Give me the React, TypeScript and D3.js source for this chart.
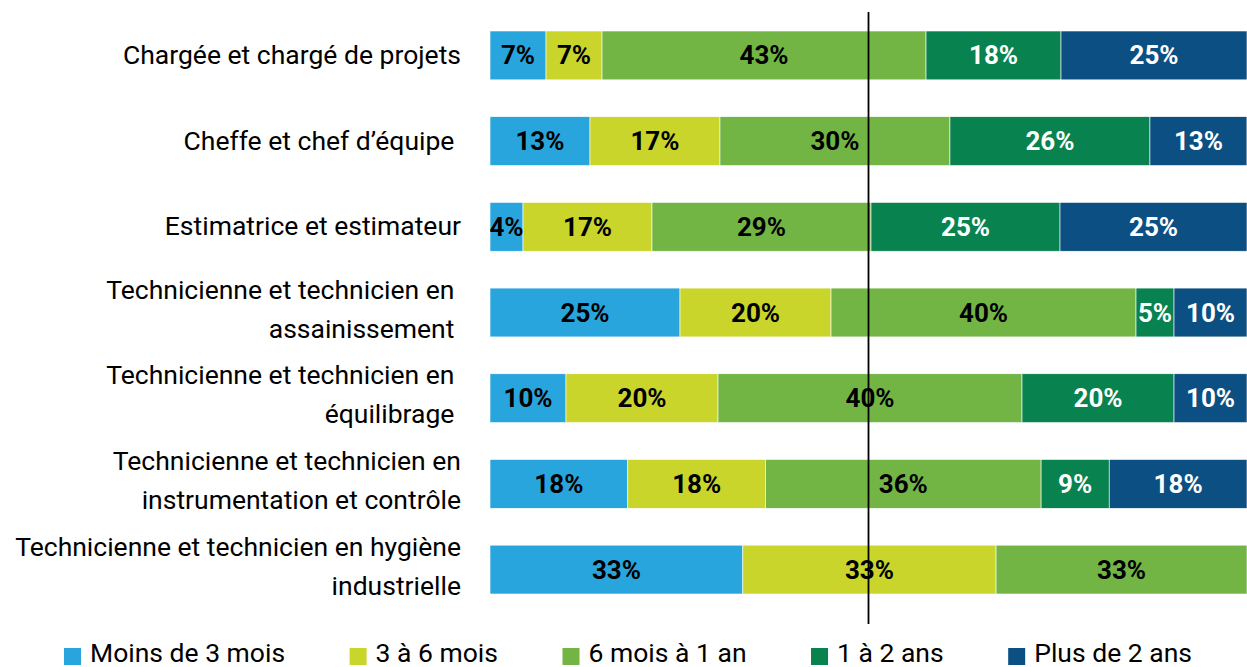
import { useEffect, useRef } from "react";
import * as d3 from "d3";

// categories (label lines; trailing space kept as in the source)
const categories = [
  ["Chargée et chargé de projets"],
  ["Cheffe et chef d’équipe "],
  ["Estimatrice et estimateur"],
  ["Technicienne et technicien en ", "assainissement "],
  ["Technicienne et technicien en ", "équilibrage "],
  ["Technicienne et technicien en", "instrumentation et contrôle"],
  ["Technicienne et technicien en hygiène", "industrielle"],
];

const seriesNames = [
  "Moins de 3 mois",
  "3 à 6 mois",
  "6 mois à 1 an",
  "1 à 2 ans",
  "Plus de 2 ans",
];

// shares in %, per category
const moins3mois = [7.4, 13.21, 4.36, 25.1, 10.04, 18.2, 33.4];
const de3a6mois = [7.4, 17.17, 17.04, 19.95, 20.08, 18.2, 33.45];
const de6moisA1an = [42.8, 30.38, 28.93, 40.29, 40.16, 36.4, 33.15];
const de1a2ans = [17.83, 26.42, 24.97, 5.02, 20.08, 9.0, 0];
const plus2ans = [24.57, 12.81, 24.7, 9.64, 9.64, 18.2, 0];

const colors = ["#29a5dd", "#c9d52a", "#72b545", "#08834f", "#0c4f82"];
const labelColors = ["#000", "#000", "#000", "#fff", "#fff"];

const App = () => {
  const svgRef = useRef<SVGSVGElement>(null);

  useEffect(() => {
    const W = 1247;
    const H = 667;
    const font = "Roboto, sans-serif";
    const fs = 26.5;

    const svg = d3.select(svgRef.current).attr("width", W).attr("height", H);
    svg.selectAll("*").remove();

    const keys = seriesNames;
    const all = [moins3mois, de3a6mois, de6moisA1an, de1a2ans, plus2ans];
    const rows = categories.map((c, i) => {
      const r: any = { id: String(i) };
      keys.forEach((k, j) => (r[k] = all[j][i]));
      return r;
    });

    const x = d3.scaleLinear().domain([0, 100]).range([490, 1247]);
    const y = d3
      .scaleBand()
      .domain(rows.map((r) => r.id))
      .range([31, 594])
      .paddingInner(0.43)
      .paddingOuter(0);

    const stacked = d3.stack().keys(keys)(rows);

    const layers = svg
      .selectAll(".layer")
      .data(stacked)
      .enter()
      .append("g")
      .attr("class", "layer")
      .attr("fill", (d, i) => colors[i]);

    layers
      .selectAll("rect")
      .data((d) => d.filter((s) => s[1] - s[0] > 0))
      .enter()
      .append("rect")
      .attr("x", (d) => x(d[0]))
      .attr("y", (d) => y(d.data.id as string)!)
      .attr("width", (d) => x(d[1]) - x(d[0]))
      .attr("height", y.bandwidth())
      .attr("stroke", "#fff")
      .attr("stroke-width", 0.6);

    // value labels
    stacked.forEach((layer, i) => {
      svg
        .append("g")
        .selectAll("text")
        .data(layer.filter((s) => s[1] - s[0] > 0))
        .enter()
        .append("text")
        .attr("x", (d) => (x(d[0]) + x(d[1])) / 2)
        .attr("y", (d) => y(d.data.id as string)! + y.bandwidth() / 2 + 9)
        .attr("text-anchor", "middle")
        .attr("font-family", font)
        .attr("font-weight", "bold")
        .attr("font-size", 26)
        .attr("fill", labelColors[i])
        .text((d) => Math.round(d[1] - d[0]) + "%");
    });

    // category labels
    const lab = svg.append("g");
    categories.forEach((lines, i) => {
      const cy = y(String(i))! + y.bandwidth() / 2;
      const offs = lines.length === 1 ? [8.5] : [-14, 25];
      lines.forEach((t, j) => {
        lab
          .append("text")
          .attr("x", 461)
          .attr("y", cy + offs[j])
          .attr("text-anchor", "end")
          .attr("font-family", font)
          .attr("font-size", fs)
          .attr("fill", "#000")
          .style("white-space", "pre")
          .text(t);
      });
    });

    // 50% reference line
    svg
      .append("line")
      .attr("x1", x(50))
      .attr("x2", x(50))
      .attr("y1", 12)
      .attr("y2", 624)
      .attr("stroke", "#000")
      .attr("stroke-width", 1.8);

    // legend
    const leg = svg.append("g");
    let lx = 64;
    keys.forEach((k, i) => {
      leg
        .append("rect")
        .attr("x", lx)
        .attr("y", 648)
        .attr("width", 17)
        .attr("height", 17)
        .attr("fill", colors[i]);
      const t = leg
        .append("text")
        .attr("x", lx + 26)
        .attr("y", 661.5)
        .attr("font-family", font)
        .attr("font-size", fs)
        .attr("fill", "#000")
        .text(k);
      const w = (t.node() as SVGTextElement).getComputedTextLength();
      lx = lx + 26 + w + 64.5;
    });
  }, []);

  return (
    <div style={{ position: "fixed", left: 0, top: 0, background: "#fff" }}>
      <svg ref={svgRef} style={{ display: "block" }}></svg>
    </div>
  );
};

export default App;
